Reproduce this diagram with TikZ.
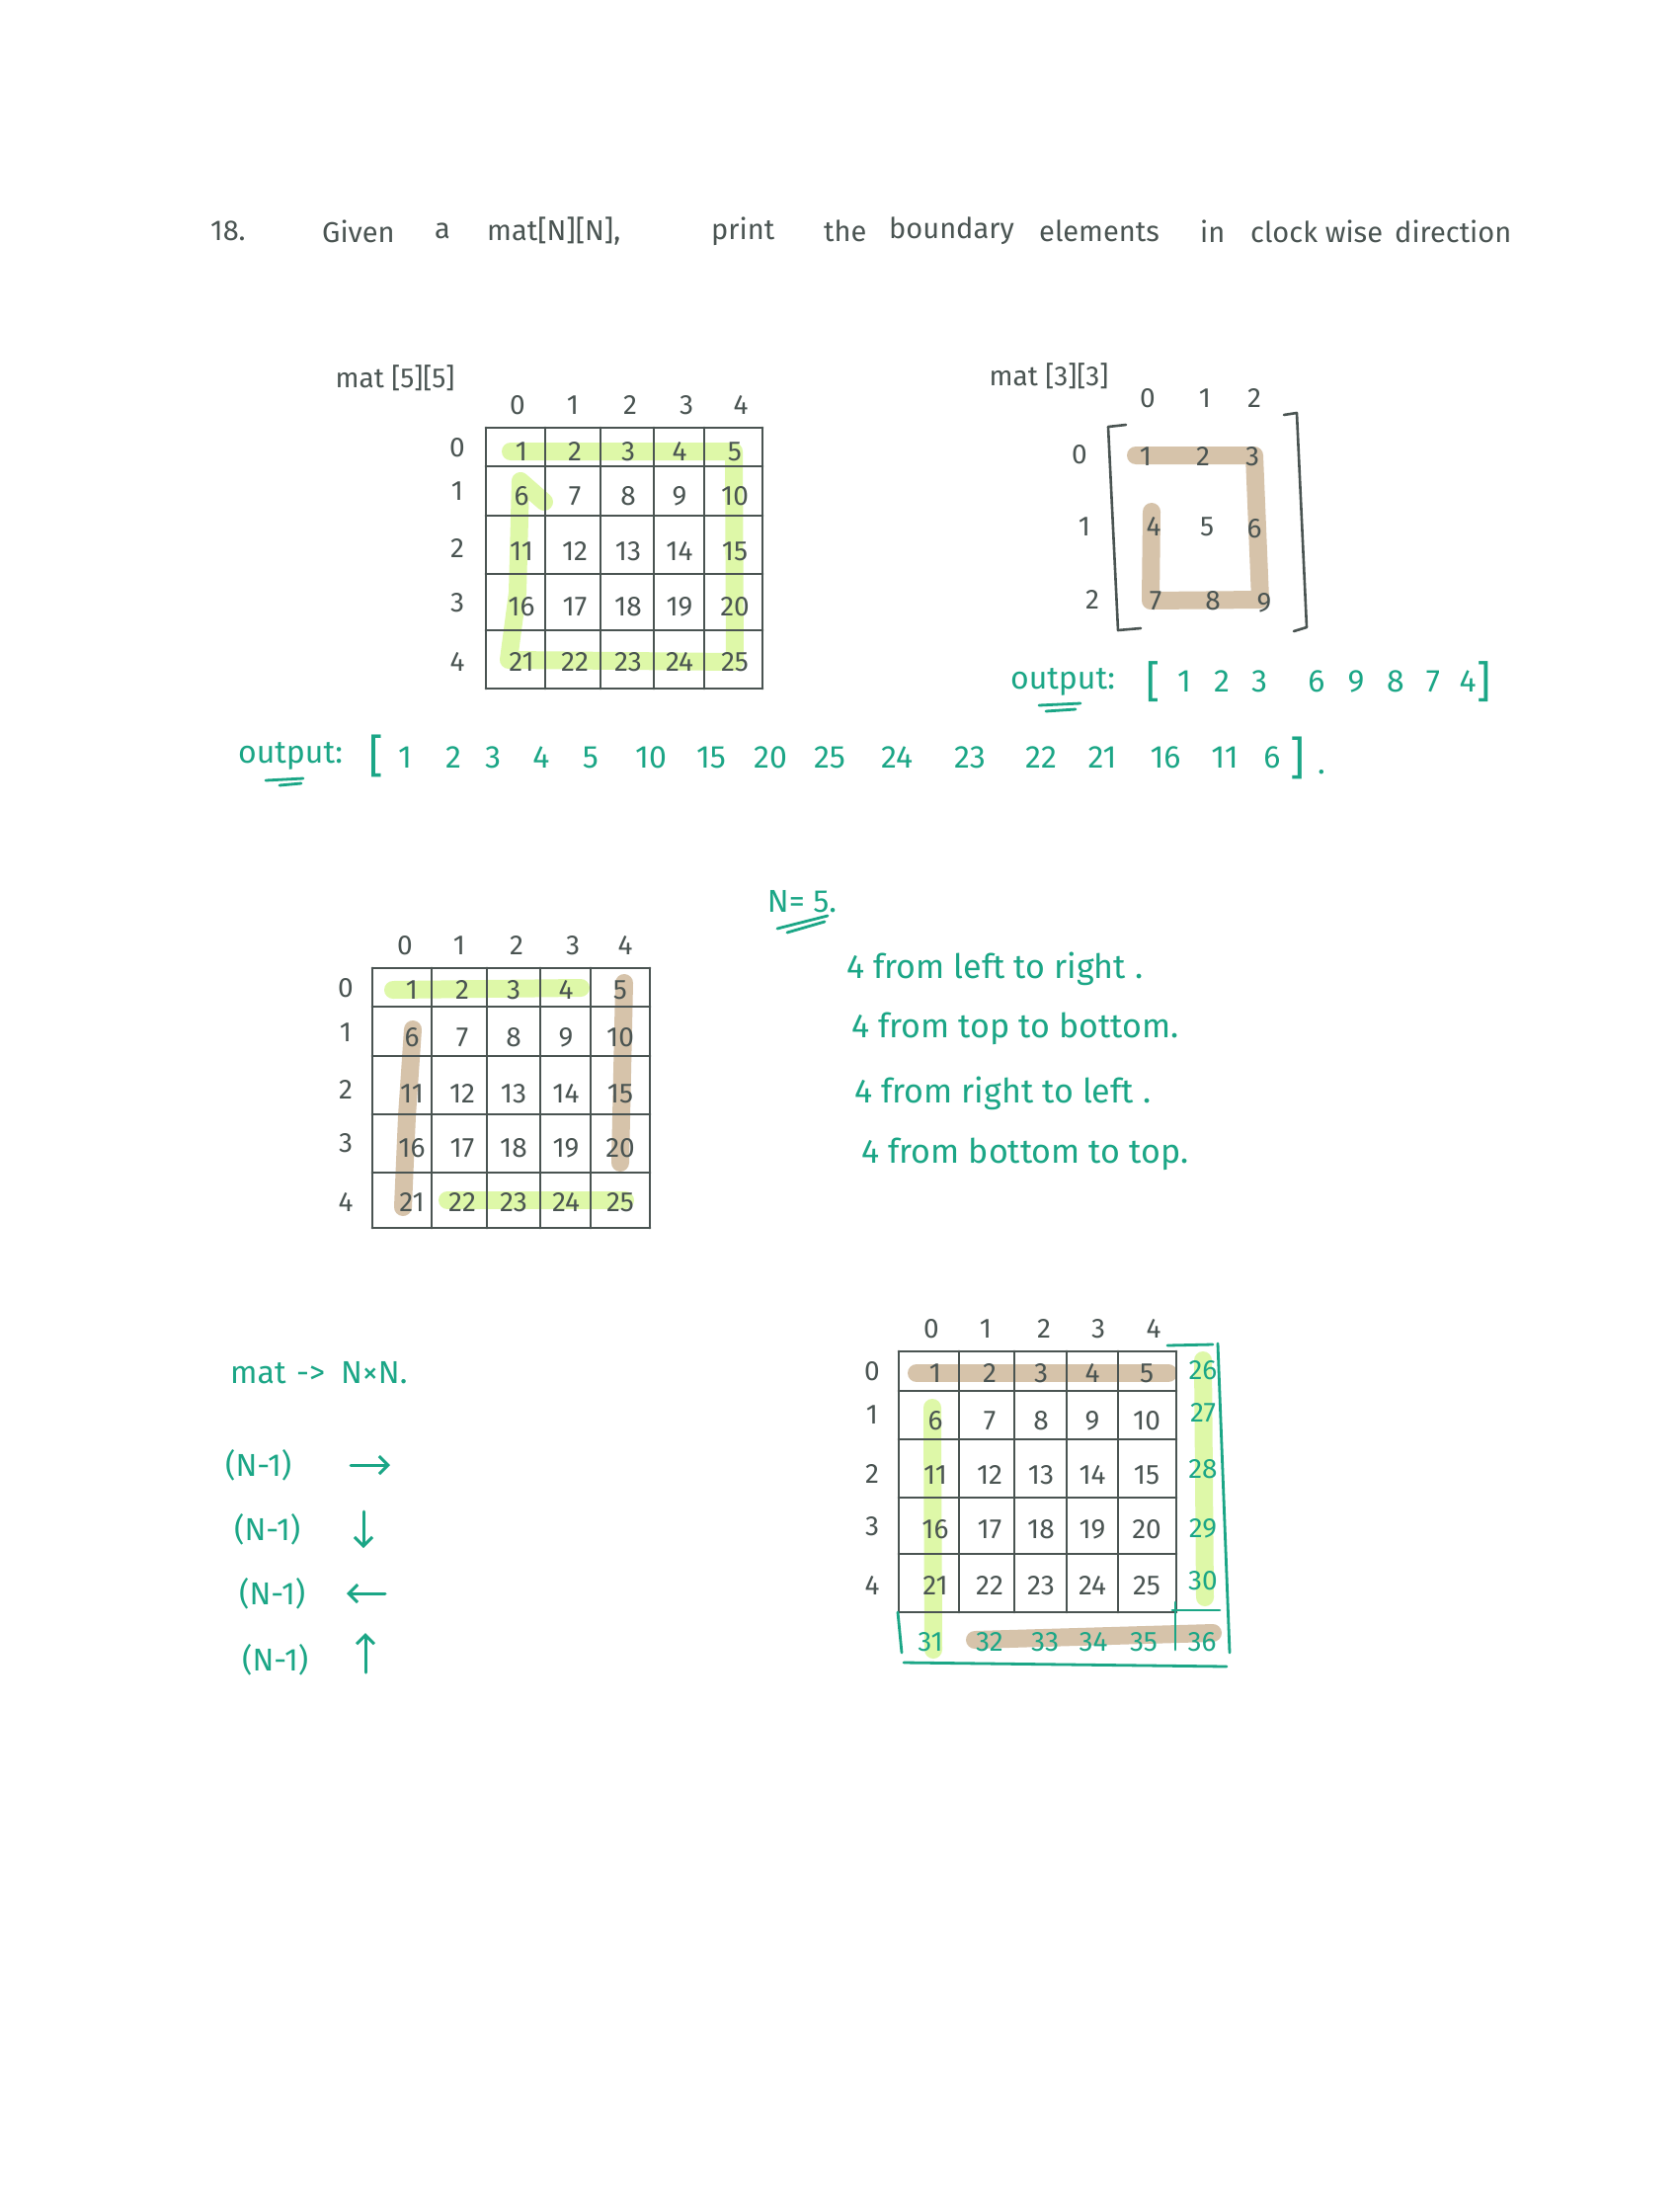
\documentclass[tikz,border=0pt]{standalone}
\usepackage{fontspec}
\setmainfont{Fira Sans}
\usetikzlibrary{arrows.meta}
\definecolor{ink}{RGB}{74,84,82}
\definecolor{tealink}{RGB}{27,166,134}
\definecolor{limehl}{RGB}{222,248,168}
\definecolor{tanhl}{RGB}{214,195,170}
\begin{document}
\begin{tikzpicture}[x=1pt,y=-1pt,
  inktxt/.style={text=ink,font=\fontsize{28}{30}\selectfont,inner sep=0pt},
  titletxt/.style={text=ink,font=\fontsize{29}{32}\selectfont,inner sep=0pt,anchor=west},
  tltxt/.style={text=tealink,font=\fontsize{32}{34}\selectfont,inner sep=0pt},
  gridline/.style={draw=ink,line width=2.8pt,line cap=round},
  hlg/.style={draw=limehl,line width=18pt,line cap=round,line join=round},
  hlb/.style={draw=tanhl,line width=18pt,line cap=round,line join=round},
  tline/.style={draw=tealink,line width=2.8pt,line cap=round,line join=round},
  iline/.style={draw=ink,line width=2.6pt,line cap=round,line join=round},
  tarrow/.style={draw=tealink,line width=3pt,line cap=round,-{Straight Barb[length=9pt,width=18pt,line width=3pt]}}]
\useasboundingbox (0,0) rectangle (1700,2224);
\fill[white] (0,0) rectangle (1700,2224);

% ---------------- title ----------------
\node[titletxt] (t1) at (213,234) {18.};
\node[titletxt] (t2) at (326,234) {Given};
\node[titletxt] (t3) at (440,234) {a};
\node[titletxt] (t4) at (493,234) {mat[N][N],};
\node[titletxt] (t5) at (720,234) {print};
\node[titletxt] (t6) at (834,234) {the};
\node[titletxt] (t7) at (900,234) {boundary};
\node[titletxt] (t8) at (1052,234) {elements};
\node[titletxt] (t9) at (1215,234) {in};
\node[titletxt] (t10) at (1266,234) {clock wise};
\node[titletxt] (t11) at (1412,234) {direction};

% ---------------- matrix 1 : mat[5][5] ----------------
\node[inktxt] (m1lab) at (400,383) {mat [5][5]};
\draw[hlg] (517,457) -- (743,457) -- (744,670) -- (515,668) -- (524,600) -- (527,487) -- (551,508);
\foreach \x in {492,552,608,662,713,772} \draw[gridline] (\x,433) -- (\x,697);
\foreach \y in {433,472,522,581,638,697} \draw[gridline] (492,\y) -- (772,\y);
\foreach \xx [count=\c from 0] in {524,580,638,695,750} \node[inktxt] (m1c\c) at (\xx,410) {\c};
\foreach \yy [count=\r from 0] in {453,497,555,610,670} \node[inktxt] (m1r\r) at (463,\yy) {\r};
\foreach \yy [count=\r from 0] in {457,502,558,614,670} {
  \foreach \xx [count=\c from 0] in {528,582,636,688,744} {
    \pgfmathtruncatemacro\v{5*\r+\c+1}
    \node[inktxt] (m1-\r-\c) at (\xx,\yy) {\v};
  }
}

% ---------------- matrix 2 : mat[3][3] ----------------
\node[inktxt] (m2lab) at (1062,381) {mat [3][3]};
\draw[hlb] (1150,461) -- (1270,461) -- (1276,607) -- (1165,608) -- (1166,518);
\draw[iline] (1140,430) -- (1122,432) -- (1132,638) -- (1155,636);
\draw[iline] (1300,420) -- (1313,418) -- (1323,635) -- (1310,639);
\foreach \xx [count=\c from 0] in {1162,1220,1270} \node[inktxt] (m2c\c) at (\xx,403) {\c};
\foreach \yy/\xx [count=\r from 0] in {460/1093,533/1098,607/1106} \node[inktxt] (m2r\r) at (\xx,\yy) {\r};
\foreach \v/\xx/\yy in {1/1160/462,2/1218/462,3/1268/462,4/1168/533,5/1222/533,6/1270/535,7/1170/608,8/1228/608,9/1280/610}
  \node[inktxt] (m2-\v) at (\xx,\yy) {\v};

% output of matrix 2
\node[tltxt] (o2lab) at (1076,690) {output:};
\draw[tline] (1052,714) -- (1094,712);
\draw[tline] (1059,720) -- (1089,718);
\node[tltxt,font=\fontsize{44}{46}\selectfont] (o2open) at (1168,690) {[};
\foreach \v/\xx in {1/1199,2/1237,3/1275,6/1333,9/1373,8/1413,7/1451,4/1486}
  \node[tltxt] (o2-\v) at (\xx,690) {\v};
\node[tltxt,font=\fontsize{44}{46}\selectfont] (o2close) at (1503,690) {]};

% ---------------- main output ----------------
\node[tltxt] (olab) at (294,765) {output:};
\draw[tline] (269,790) -- (307,788);
\draw[tline] (283,795) -- (305,793);
\node[tltxt,font=\fontsize{46}{48}\selectfont] (oopen) at (381,765) {[};
\foreach \v/\xx [count=\i] in {1/410,2/459,3/499,4/548,5/598,10/659,15/720,20/780,25/840,24/908,23/982,22/1054,21/1116,16/1180,11/1240,6/1288}
  \node[tltxt] (o-\i) at (\xx,767) {\v};
\node[tltxt,font=\fontsize{46}{48}\selectfont] (oclose) at (1314,767) {]};
\node[tltxt] (odot) at (1338,782) {.};

% ---------------- N = 5 and rules ----------------
\node[tltxt] (nlab) at (812,913) {N= 5.};
\draw[tline] (787,940) -- (838,927);
\draw[tline] (797,944) -- (835,933);
\node[tltxt,font=\fontsize{34}{36}\selectfont,anchor=base west] (r1) at (857,990) {4 from left to right .};
\node[tltxt,font=\fontsize{34}{36}\selectfont,anchor=base west] (r2) at (862,1050) {4 from top to bottom.};
\node[tltxt,font=\fontsize{34}{36}\selectfont,anchor=base west] (r3) at (865,1116) {4 from right to left .};
\node[tltxt,font=\fontsize{34}{36}\selectfont,anchor=base west] (r4) at (872,1177) {4 from bottom to top.};

% ---------------- matrix 3 ----------------
\draw[hlg] (398,1002) -- (588,1000);
\draw[hlg] (453,1215) -- (633,1215);
\draw[hlb] (418,1042) -- (412,1130) -- (408,1222);
\draw[hlb] (632,995) -- (628,1177);
\foreach \x in {377,437,493,547,598,658} \draw[gridline] (\x,980) -- (\x,1243);
\foreach \y in {980,1019,1069,1128,1187,1243} \draw[gridline] (377,\y) -- (658,\y);
\foreach \xx [count=\c from 0] in {410,465,523,580,633} \node[inktxt] (m3c\c) at (\xx,957) {\c};
\foreach \yy [count=\r from 0] in {1000,1045,1103,1157,1217} \node[inktxt] (m3r\r) at (350,\yy) {\r};
\foreach \yy [count=\r from 0] in {1002,1050,1107,1162,1217} {
  \foreach \xx [count=\c from 0] in {417,468,520,573,628} {
    \pgfmathtruncatemacro\v{5*\r+\c+1}
    \node[inktxt] (m3-\r-\c) at (\xx,\yy) {\v};
  }
}

% ---------------- mat -> NxN ----------------
\node[tltxt,anchor=west] (nn) at (233,1390) {mat\,\,->\,\,\,N×N.};
\node[tltxt,anchor=west] (s1) at (228,1483) {(N-1)};
\node[tltxt,anchor=west] (s2) at (237,1548) {(N-1)};
\node[tltxt,anchor=west] (s3) at (242,1613) {(N-1)};
\node[tltxt,anchor=west] (s4) at (245,1680) {(N-1)};
\coordinate (a1s) at (355,1483); \coordinate (a1e) at (395,1483);
\coordinate (a2s) at (368,1530); \coordinate (a2e) at (368,1567);
\coordinate (a3s) at (390,1613); \coordinate (a3e) at (351,1613);
\coordinate (a4s) at (370,1693); \coordinate (a4e) at (370,1653);
\draw[tarrow] (a1s) -- (a1e);
\draw[tarrow] (a2s) -- (a2e);
\draw[tarrow] (a3s) -- (a3e);
\draw[tarrow] (a4s) -- (a4e);

% ---------------- matrix 4 ----------------
\draw[hlb] (928,1390) -- (1183,1390);
\draw[hlg] (944,1425) -- (945,1670);
\draw[hlg] (1218,1377) -- (1220,1617);
\draw[hlb] (987,1660) -- (1228,1653);
\foreach \x in {910,971,1027,1080,1132,1191} \draw[gridline] (\x,1368) -- (\x,1632);
\foreach \y in {1368,1408,1457,1516,1573,1632} \draw[gridline] (910,\y) -- (1191,\y);
\foreach \xx [count=\c from 0] in {943,998,1057,1112,1168} \node[inktxt] (m4c\c) at (\xx,1345) {\c};
\foreach \yy [count=\r from 0] in {1388,1432,1492,1545,1605} \node[inktxt] (m4r\r) at (883,\yy) {\r};
\foreach \yy [count=\r from 0] in {1390,1438,1493,1548,1605} {
  \foreach \xx [count=\c from 0] in {947,1002,1054,1106,1161} {
    \pgfmathtruncatemacro\v{5*\r+\c+1}
    \node[inktxt] (m4-\r-\c) at (\xx,\yy) {\v};
  }
}
\foreach \v/\yy in {26/1387,27/1430,28/1487,29/1547,30/1600}
  \node[tltxt,font=\fontsize{28}{30}\selectfont] (m4x-\v) at (1218,\yy) {\v};
\foreach \v/\xx in {31/942,32/1002,33/1058,34/1107,35/1158,36/1217}
  \node[tltxt,font=\fontsize{28}{30}\selectfont] (m4x-\v) at (\xx,1662) {\v};
\draw[tline] (1182,1362) -- (1228,1361);
\draw[tline] (1233,1360) -- (1245,1673);
\draw[tline] (909,1632) -- (913,1673);
\draw[tline] (915,1683) -- (1242,1687);
\draw[tline] (1187,1630) -- (1235,1630);
\draw[tline] (1190,1622) -- (1190,1670);
\end{tikzpicture}
\end{document}
